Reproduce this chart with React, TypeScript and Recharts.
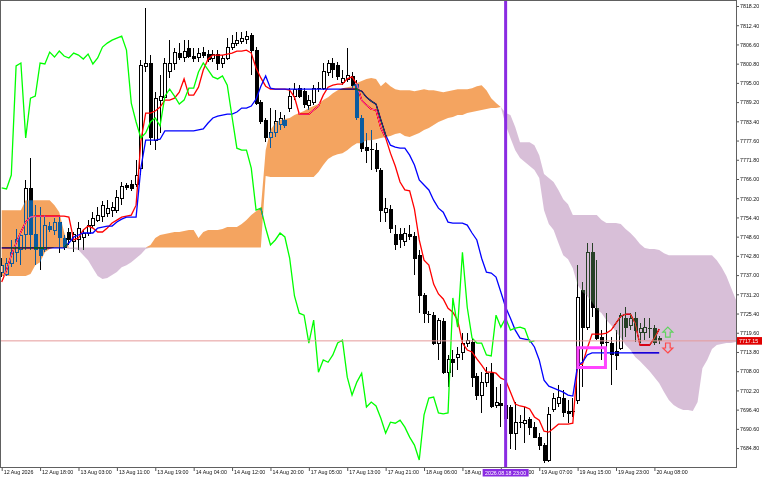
import {
  ComposedChart,
  Bar,
  Line,
  Area,
  XAxis,
  YAxis,
  CartesianGrid,
  ReferenceLine,
  ReferenceArea,
  ReferenceDot,
} from "recharts";

// H1 candles, one per bar index
const opens = [
  7737.9, 7737.3, 7740.6, 7743.9, 7744.6, 7749.1, 7763.0, 7749.1, 7745.2, 7744.6,
  7751.8, 7750.6, 7753.0, 7747.9, 7750.0, 7747.0, 7747.6, 7748.2, 7749.7, 7752.1,
  7753.6, 7754.8, 7755.7, 7756.6, 7756.6, 7760.2, 7763.9, 7764.2, 7764.2, 7769.3,
  7799.8, 7801.0, 7777.7, 7789.8, 7790.7, 7798.3, 7801.0, 7804.0, 7802.8, 7805.5,
  7803.1, 7802.8, 7804.3, 7803.7, 7802.5, 7803.7, 7801.0, 7802.5, 7805.8, 7807.0,
  7807.6, 7808.2, 7809.4, 7804.9, 7789.2, 7783.8, 7778.4, 7779.9, 7782.3, 7783.8,
  7787.4, 7791.0, 7793.4, 7792.5, 7788.3, 7789.2, 7793.1, 7793.4, 7798.0, 7801.0,
  7800.1, 7795.0, 7795.9, 7796.8, 7794.6, 7784.4, 7775.6, 7775.0, 7774.7, 7768.7,
  7756.0, 7756.9, 7749.1, 7749.1, 7747.0, 7749.4, 7748.5, 7743.0, 7730.7, 7725.1,
  7724.9, 7716.5, 7723.1, 7707.7, 7711.4, 7712.0, 7713.5, 7716.5, 7716.8, 7706.5,
  7700.8, 7704.7, 7707.4, 7697.5, 7698.4, 7697.5, 7696.9, 7689.3, 7692.6, 7692.3,
  7693.5, 7691.1, 7688.1, 7685.7, 7681.2, 7696.3, 7698.4, 7699.9, 7695.7, 7695.7,
  7699.3, 7732.5, 7721.3, 7743.9, 7727.0, 7718.3, 7716.7, 7716.5, 7713.8, 7714.9,
  7724.0, 7721.9, 7724.0, 7719.8, 7719.8, 7721.0, 7721.0, 7718.0,
];
const highs = [
  7742.1, 7742.1, 7747.6, 7750.9, 7750.0, 7765.7, 7772.3, 7758.1, 7757.5, 7755.1,
  7753.0, 7754.2, 7754.5, 7749.1, 7751.2, 7750.0, 7753.0, 7750.6, 7753.6, 7756.0,
  7757.5, 7759.3, 7759.6, 7759.0, 7762.7, 7765.1, 7764.8, 7765.7, 7771.7, 7801.9,
  7817.6, 7803.4, 7792.2, 7797.4, 7802.5, 7807.9, 7805.5, 7807.0, 7807.9, 7807.9,
  7805.5, 7805.5, 7805.8, 7804.9, 7804.9, 7804.9, 7803.4, 7808.5, 7809.4, 7810.3,
  7810.3, 7810.6, 7810.0, 7805.8, 7789.8, 7784.4, 7787.4, 7786.8, 7786.2, 7785.3,
  7793.4, 7795.0, 7794.3, 7793.4, 7791.3, 7794.3, 7795.3, 7801.0, 7801.9, 7802.5,
  7801.3, 7798.9, 7805.5, 7798.3, 7795.9, 7785.3, 7779.9, 7780.8, 7776.8, 7769.3,
  7760.2, 7758.1, 7752.1, 7751.2, 7751.2, 7752.1, 7750.0, 7744.6, 7731.6, 7726.1,
  7725.8, 7724.0, 7724.0, 7712.9, 7714.4, 7715.3, 7719.5, 7719.5, 7718.0, 7707.4,
  7707.7, 7709.2, 7710.4, 7703.2, 7704.1, 7699.3, 7697.8, 7698.7, 7694.8, 7697.2,
  7694.1, 7692.6, 7689.3, 7686.3, 7697.2, 7701.4, 7703.8, 7702.3, 7699.3, 7699.9,
  7740.0, 7734.9, 7746.7, 7746.7, 7741.5, 7720.4, 7725.5, 7718.3, 7720.4, 7725.5,
  7727.3, 7725.5, 7725.8, 7722.5, 7724.0, 7724.0, 7721.9, 7718.6,
];
const lows = [
  7736.4, 7736.7, 7739.4, 7740.9, 7740.0, 7744.6, 7744.6, 7740.0, 7738.5, 7743.9,
  7750.0, 7749.1, 7743.6, 7744.6, 7746.1, 7743.9, 7744.6, 7744.6, 7748.8, 7751.2,
  7753.0, 7753.0, 7754.5, 7754.5, 7755.7, 7758.1, 7762.7, 7762.4, 7763.6, 7767.2,
  7798.3, 7776.2, 7774.7, 7779.9, 7789.8, 7796.5, 7798.9, 7801.9, 7801.3, 7802.5,
  7801.3, 7801.3, 7802.5, 7801.3, 7801.3, 7798.9, 7799.5, 7801.9, 7804.9, 7806.1,
  7806.7, 7806.7, 7797.4, 7788.3, 7782.6, 7777.1, 7775.3, 7778.7, 7780.8, 7781.4,
  7786.2, 7789.8, 7790.4, 7787.4, 7786.8, 7788.3, 7792.2, 7792.8, 7797.1, 7796.5,
  7795.9, 7794.3, 7795.3, 7793.4, 7783.8, 7774.1, 7770.8, 7768.7, 7768.1, 7753.0,
  7753.0, 7749.7, 7744.6, 7745.2, 7745.8, 7747.6, 7737.0, 7725.5, 7722.5, 7722.5,
  7715.9, 7711.4, 7707.1, 7703.2, 7706.2, 7708.3, 7711.4, 7715.3, 7703.2, 7699.3,
  7695.4, 7703.2, 7696.9, 7696.9, 7691.1, 7690.2, 7684.5, 7684.2, 7690.8, 7686.3,
  7688.7, 7687.8, 7684.2, 7680.3, 7680.6, 7695.7, 7697.2, 7694.2, 7692.3, 7694.2,
  7698.1, 7703.2, 7720.4, 7724.3, 7717.4, 7711.4, 7714.9, 7703.8, 7708.3, 7714.4,
  7718.3, 7720.4, 7716.8, 7716.5, 7717.4, 7718.0, 7715.9, 7716.2,
];
const closes = [
  7740.0, 7740.6, 7743.9, 7747.6, 7748.8, 7763.0, 7749.1, 7744.6, 7743.0, 7752.1,
  7750.9, 7753.0, 7748.2, 7745.2, 7747.6, 7749.1, 7751.2, 7749.7, 7752.1, 7754.2,
  7755.1, 7758.1, 7757.2, 7757.5, 7760.5, 7763.6, 7763.3, 7763.0, 7767.2, 7800.1,
  7801.0, 7778.4, 7790.4, 7791.0, 7801.0, 7800.7, 7804.3, 7802.8, 7804.6, 7803.1,
  7802.5, 7804.0, 7803.4, 7802.2, 7803.7, 7800.7, 7802.5, 7805.8, 7807.0, 7807.9,
  7808.5, 7809.1, 7804.9, 7788.9, 7783.2, 7778.4, 7779.9, 7783.2, 7784.4, 7782.0,
  7791.0, 7793.1, 7791.0, 7788.6, 7789.8, 7793.4, 7793.4, 7798.3, 7801.0, 7798.9,
  7796.8, 7796.2, 7797.1, 7794.3, 7784.7, 7775.3, 7774.7, 7774.7, 7769.3, 7756.6,
  7757.2, 7751.2, 7746.1, 7747.6, 7749.7, 7748.5, 7742.1, 7730.7, 7725.5, 7724.9,
  7716.5, 7723.4, 7707.7, 7711.4, 7710.7, 7712.9, 7716.5, 7717.4, 7706.2, 7700.8,
  7704.7, 7707.4, 7697.2, 7698.7, 7697.5, 7693.8, 7689.3, 7692.6, 7692.3, 7693.2,
  7691.1, 7688.1, 7685.7, 7681.2, 7694.8, 7699.9, 7700.2, 7695.4, 7695.1, 7695.4,
  7730.1, 7721.3, 7743.9, 7727.3, 7718.0, 7716.5, 7716.5, 7712.9, 7712.6, 7724.9,
  7721.3, 7724.0, 7720.4, 7721.0, 7721.3, 7720.8, 7716.8, 7717.15,
];

// Ichimoku lines
const tenkan = [
  7734.9, 7738.5, 7743.0, 7746.7, 7750.0, 7753.0, 7754.5, 7754.8, 7754.8, 7754.8,
  7754.8, 7754.8, 7754.8, 7754.8, 7754.5, 7747.6, 7748.2, 7750.6, 7751.8, 7751.2,
  7750.0, 7750.0, 7751.2, 7752.7, 7753.6, 7754.5, 7754.8, 7755.1, 7758.1, 7777.4,
  7785.9, 7785.9, 7786.5, 7787.7, 7789.8, 7789.8, 7790.4, 7792.2, 7796.2, 7791.3,
  7791.3, 7793.7, 7798.9, 7802.2, 7803.4, 7803.4, 7803.4, 7803.7, 7804.0, 7804.6,
  7804.6, 7804.9, 7804.0, 7799.5, 7796.5, 7794.0, 7793.1, 7793.1, 7793.1, 7793.1,
  7792.8, 7790.7, 7785.6, 7785.6, 7785.6, 7786.8, 7788.0, 7791.3, 7793.7, 7794.3,
  7794.6, 7794.6, 7796.2, 7796.8, 7794.6, 7789.8, 7788.3, 7787.1, 7786.8, 7781.4,
  7778.4, 7773.8, 7769.9, 7765.1, 7762.7, 7762.4, 7756.9, 7747.6, 7741.5, 7740.0,
  7734.3, 7731.3, 7729.8, 7727.0, 7725.8, 7723.4, 7716.5, 7714.4, 7713.8, 7711.7,
  7709.8, 7707.7, 7707.7, 7707.4, 7705.9, 7705.3, 7701.7, 7698.1, 7697.5, 7697.2,
  7696.6, 7694.2, 7693.2, 7689.9, 7689.6, 7690.8, 7692.0, 7692.0, 7692.0, 7692.3,
  7710.1, 7710.1, 7714.9, 7719.2, 7719.2, 7719.2, 7719.5, 7720.4, 7722.5, 7724.6,
  7725.2, 7725.2, 7722.5, 7715.9, 7715.9, 7715.9, 7718.0, 7720.7,
];
const kijun = [
  7745.2, 7745.2, 7745.2, 7745.2, 7745.2, 7745.2, 7745.2, 7745.2, 7745.2, 7745.2,
  7745.2, 7745.2, 7745.2, 7745.2, 7746.7, 7748.5, 7749.1, 7749.7, 7749.7, 7749.7,
  7751.2, 7751.5, 7751.8, 7751.8, 7753.0, 7753.9, 7754.5, 7754.5, 7754.5, 7769.3,
  7777.7, 7777.7, 7777.7, 7778.0, 7780.5, 7780.5, 7780.5, 7780.5, 7780.5, 7780.5,
  7780.5, 7780.8, 7781.1, 7782.9, 7784.4, 7785.0, 7785.3, 7785.6, 7785.6, 7786.2,
  7787.4, 7787.4, 7788.0, 7790.1, 7794.0, 7797.1, 7793.4, 7793.1, 7793.1, 7793.1,
  7793.1, 7793.1, 7793.1, 7793.1, 7793.1, 7793.1, 7793.1, 7793.1, 7793.1, 7793.1,
  7793.1, 7793.1, 7793.1, 7793.1, 7793.1, 7792.5, 7790.7, 7789.5, 7788.6, 7783.8,
  7779.3, 7776.2, 7775.6, 7775.3, 7775.3, 7773.2, 7770.2, 7765.7, 7764.2, 7762.7,
  7759.6, 7757.2, 7756.0, 7753.0, 7752.7, 7752.7, 7752.7, 7752.1, 7749.7, 7747.6,
  7742.1, 7737.9, 7737.6, 7736.4, 7731.9, 7727.3, 7724.0, 7720.4, 7718.0, 7717.7,
  7717.4, 7715.3, 7711.4, 7705.3, 7703.5, 7702.9, 7702.3, 7701.7, 7700.8, 7700.5,
  7709.8, 7710.7, 7712.9, 7713.5, 7713.5, 7713.5, 7713.5, 7713.5, 7713.5, 7713.5,
  7713.5, 7713.5, 7713.5, 7713.5, 7713.5, 7713.5, 7713.5, 7713.5,
];
// senkou spans, already drawn 26 bars ahead (run past the last candle)
const spanA = [
  7756.6, 7756.6, 7756.6, 7756.6, 7756.6, 7759.6, 7759.6, 7759.6, 7759.6, 7759.6,
  7759.6, 7758.1, 7756.0, 7750.0, 7744.9, 7744.9, 7744.6, 7743.0, 7741.5, 7739.1,
  7736.7, 7735.8, 7736.1, 7737.0, 7737.9, 7739.4, 7740.0, 7740.9, 7742.1, 7743.3,
  7744.9, 7746.1, 7748.2, 7749.1, 7749.4, 7749.7, 7750.0, 7750.0, 7750.3, 7750.6,
  7750.6, 7748.2, 7750.0, 7750.6, 7750.6, 7750.6, 7750.9, 7751.5, 7751.5, 7751.5,
  7752.4, 7753.6, 7755.1, 7756.3, 7757.2, 7774.7, 7780.8, 7782.9, 7783.8, 7784.1,
  7784.4, 7785.3, 7785.9, 7786.5, 7787.4, 7788.0, 7788.6, 7789.8, 7790.7, 7791.9,
  7792.8, 7793.4, 7793.7, 7794.0, 7795.0, 7795.6, 7796.2, 7796.5, 7796.2, 7794.0,
  7795.3, 7794.0, 7793.1, 7792.8, 7792.8, 7792.8, 7792.5, 7792.8, 7793.1, 7792.8,
  7792.8, 7792.5, 7792.2, 7792.5, 7792.8, 7793.1, 7793.1, 7793.1, 7793.4, 7794.0,
  7794.3, 7792.8, 7790.4, 7788.9, 7787.7, 7782.3, 7778.4, 7774.7, 7772.3, 7771.1,
  7769.9, 7768.7, 7766.3, 7756.6, 7752.4, 7750.6, 7746.7, 7743.0, 7741.8, 7739.1,
  7734.0, 7731.9, 7730.7, 7728.9, 7726.7, 7725.5, 7723.4, 7721.9, 7719.8, 7718.0,
  7715.9, 7714.4, 7712.3, 7711.0, 7709.5, 7708.0, 7706.2, 7704.4, 7701.7, 7699.3,
  7697.8, 7696.9, 7696.3, 7696.3, 7696.0, 7698.7, 7708.9, 7711.4, 7714.7, 7715.9,
  7716.2, 7716.5, 7716.5, 7716.8,
];
const spanB = [
  7736.7, 7736.7, 7736.7, 7736.7, 7736.7, 7736.7, 7737.3, 7740.0, 7740.9, 7743.9,
  7744.9, 7745.3, 7745.3, 7745.3, 7745.3, 7745.3, 7745.3, 7745.3, 7745.3, 7745.3,
  7745.3, 7745.3, 7745.3, 7745.3, 7745.3, 7745.3, 7745.3, 7745.3, 7745.3, 7745.3,
  7745.3, 7745.3, 7745.3, 7745.3, 7745.3, 7745.3, 7745.3, 7745.3, 7745.3, 7745.3,
  7745.3, 7745.3, 7745.3, 7745.3, 7745.3, 7745.3, 7745.3, 7745.3, 7745.3, 7745.3,
  7745.3, 7745.3, 7745.3, 7745.3, 7745.3, 7766.9, 7766.6, 7766.6, 7766.6, 7766.6,
  7766.6, 7766.6, 7766.6, 7766.6, 7766.6, 7766.6, 7768.1, 7770.2, 7772.0, 7772.9,
  7773.5, 7773.8, 7774.7, 7775.9, 7776.8, 7776.8, 7777.7, 7777.7, 7778.0, 7778.4,
  7778.7, 7779.0, 7779.6, 7779.9, 7779.0, 7778.7, 7779.3, 7779.9, 7780.8, 7781.4,
  7782.3, 7783.2, 7783.8, 7784.4, 7784.7, 7785.3, 7785.3, 7785.9, 7786.2, 7786.5,
  7786.8, 7787.1, 7787.4, 7787.4, 7787.7, 7785.9, 7785.3, 7781.7, 7777.1, 7777.1,
  7777.1, 7776.2, 7773.2, 7767.5, 7766.3, 7765.1, 7762.7, 7759.9, 7758.4, 7755.1,
  7755.1, 7755.1, 7755.1, 7755.1, 7755.1, 7753.6, 7752.7, 7752.7, 7752.7, 7752.4,
  7750.9, 7749.7, 7748.2, 7746.4, 7745.2, 7744.9, 7744.9, 7744.6, 7743.6, 7743.0,
  7743.0, 7743.0, 7743.0, 7743.0, 7743.0, 7743.0, 7743.0, 7743.0, 7743.0, 7741.5,
  7739.4, 7736.7, 7733.1, 7729.5,
];

const timeLabels = [
  "12 Aug 2026", "12 Aug 18:00", "13 Aug 03:00", "13 Aug 11:00", "13 Aug 19:00",
  "14 Aug 04:00", "14 Aug 12:00", "14 Aug 20:00", "17 Aug 05:00", "17 Aug 13:00",
  "17 Aug 21:00", "18 Aug 06:00", "18 Aug 14:00", "18 Aug 22:00", "19 Aug 07:00",
  "19 Aug 15:00", "19 Aug 23:00", "20 Aug 08:00",
];
const priceTicks = [
  7684.8, 7690.6, 7696.4, 7702.2, 7708.0, 7713.8, 7719.6, 7725.4, 7731.2, 7737.0,
  7742.8, 7748.6, 7754.4, 7760.2, 7766.0, 7771.8, 7777.6, 7783.4, 7789.2, 7795.0,
  7800.8, 7806.6, 7812.4, 7818.2,
];

const lastPrice = 7717.15;
const markerBar = 105;
const markerLabel = "2026.08.18 23:00";
const CHIKOU_SHIFT = 26;
const LABEL_STEP = 8;

const FONT = "Liberation Sans";
const FONT_SIZE = 5.3;
const LABEL_WIDTH = 31.5;

const rows = spanA.map((a, i) => {
  const b = spanB[i];
  const hasBar = i < closes.length;
  return {
    i,
    range: hasBar ? [lows[i], highs[i]] : null,
    open: hasBar ? opens[i] : null,
    close: hasBar ? closes[i] : null,
    tenkan: hasBar ? tenkan[i] : null,
    kijun: hasBar ? kijun[i] : null,
    chikou: i + CHIKOU_SHIFT < closes.length ? closes[i + CHIKOU_SHIFT] : null,
    bullCloud: [b, Math.max(a, b)],
    bearCloud: [Math.min(a, b), b],
  };
});

const xTicks = [...timeLabels.map((_, k) => k * LABEL_STEP), markerBar];
const yTicks = [...priceTicks, lastPrice];

function Candle(props: any) {
  const { x, y, width, height, payload } = props;
  if (!payload || !payload.range || !height) return null;
  const [low, high] = payload.range;
  const cx = Math.round(x + width / 2);
  const k = height / (high - low);
  const py = (p: number) => y + (high - p) * k;
  const top = py(Math.max(payload.open, payload.close));
  const bot = py(Math.min(payload.open, payload.close));
  const up = payload.close > payload.open;
  return (
    <g shapeRendering="crispEdges">
      <line x1={cx + 0.5} x2={cx + 0.5} y1={y} y2={y + height} stroke="#000" />
      {bot - top < 1 ? (
        <line x1={cx - 1.5} x2={cx + 2.5} y1={top} y2={top} stroke="#000" />
      ) : (
        <rect
          x={cx - 1}
          y={top}
          width={3}
          height={bot - top}
          fill={up ? "#fff" : "#000"}
          stroke="#000"
        />
      )}
    </g>
  );
}

function TimeTick(props: any) {
  const { x, y, payload } = props;
  const v = payload.value;
  if (v === markerBar) {
    return (
      <g>
        <rect x={x - 23} y={y + 2} width={46} height={7.5} fill="#8a2be2" />
        <text x={x} y={y + 7.6} textAnchor="middle" fill="#fff" fontFamily={FONT} fontSize={FONT_SIZE}>
          {markerLabel}
        </text>
      </g>
    );
  }
  const label = timeLabels[v / LABEL_STEP];
  // the marker's date box hides the middle of the two labels beside it
  let text = (
    <text x={x + 2} y={y + 7.2} fill="#111" fontFamily={FONT} fontSize={FONT_SIZE}>
      {label}
    </text>
  );
  if (v > markerBar - 2 * LABEL_STEP && v < markerBar - LABEL_STEP) {
    text = (
      <text x={x + 2} y={y + 7.2} fill="#111" fontFamily={FONT} fontSize={FONT_SIZE}>
        {label.slice(0, 6)}
      </text>
    );
  } else if (v < markerBar && v > markerBar - LABEL_STEP) {
    text = (
      <text x={x + 2 + LABEL_WIDTH} y={y + 7.2} textAnchor="end" fill="#111" fontFamily={FONT} fontSize={FONT_SIZE}>
        {label.slice(-2)}
      </text>
    );
  }
  return (
    <g>
      <line x1={x + 0.5} x2={x + 0.5} y1={y} y2={y + 4} stroke="#555" />
      {text}
    </g>
  );
}

function PriceTick(props: any) {
  const { x, y, payload } = props;
  const v = payload.value;
  if (v === lastPrice) {
    return (
      <g>
        <rect x={x + 1} y={y - 3.8} width={25} height={7.6} fill="#e00000" />
        <text x={x + 3} y={y + 1.9} fill="#fff" fontFamily={FONT} fontSize={FONT_SIZE}>
          {v.toFixed(2)}
        </text>
      </g>
    );
  }
  return (
    <g>
      <line x1={x} x2={x + 3} y1={y + 0.5} y2={y + 0.5} stroke="#555" />
      <text x={x + 4} y={y + 2.3} fill="#111" fontFamily={FONT} fontSize={FONT_SIZE}>
        {v.toFixed(2)}
      </text>
    </g>
  );
}

function UpArrow(props: any) {
  const { cx, cy } = props;
  const d = `M${cx},${cy - 5} L${cx + 5},${cy} L${cx + 2.3},${cy} L${cx + 2.3},${cy + 5} L${cx - 2.3},${cy + 5} L${cx - 2.3},${cy} L${cx - 5},${cy} Z`;
  return <path d={d} fill="none" stroke="#5fd35f" strokeWidth={1.2} />;
}

function DownArrow(props: any) {
  const { cx, cy } = props;
  const d = `M${cx},${cy + 5} L${cx + 5},${cy} L${cx + 2.3},${cy} L${cx + 2.3},${cy - 5} L${cx - 2.3},${cy - 5} L${cx - 2.3},${cy} L${cx - 5},${cy} Z`;
  return <path d={d} fill="none" stroke="#ff4a4a" strokeWidth={1.2} />;
}

export default function App() {
  return (
    <div
      style={{
        position: "absolute",
        left: 0,
        top: 0,
        width: 768,
        height: 480,
        background: "#fff",
      }}
    >
      <style>{`.kumo path { mix-blend-mode: difference; }`}</style>
      <ComposedChart
        width={768}
        height={480}
        data={rows}
        margin={{ top: 1, right: 0, bottom: 0, left: 1 }}
      >
        <CartesianGrid horizontal={false} vertical={false} fill="#ffffff" />
        <XAxis
          dataKey="i"
          type="number"
          domain={[-0.146, 153]}
          ticks={xTicks}
          interval={0}
          height={13}
          tickSize={0}
          tickMargin={0}
          axisLine={false}
          tickLine={false}
          tick={TimeTick}
        />
        <YAxis
          orientation="right"
          type="number"
          domain={[7679.09, 7819.71]}
          ticks={yTicks}
          interval={0}
          width={32}
          tickSize={0}
          tickMargin={0}
          axisLine={false}
          tickLine={false}
          tick={PriceTick}
        />
        <Bar
          dataKey="range"
          barSize={4}
          shape={Candle}
          isAnimationActive={false}
          zIndex={300}
        />
        <Line dataKey="tenkan" type="linear" stroke="#ff0000" strokeWidth={1.3} dot={false} activeDot={false} isAnimationActive={false} zIndex={400} />
        <Line dataKey="kijun" type="linear" stroke="#0000ff" strokeWidth={1.3} dot={false} activeDot={false} isAnimationActive={false} zIndex={400} />
        <Line dataKey="chikou" type="linear" stroke="#00ff00" strokeWidth={1.3} dot={false} activeDot={false} isAnimationActive={false} zIndex={400} />
        <Area
          dataKey="bullCloud"
          type="linear"
          stroke="none"
          fill="#0b5b9f"
          fillOpacity={1}
          className="kumo"
          dot={false}
          activeDot={false}
          isAnimationActive={false}
          zIndex={450}
        />
        <Area
          dataKey="bearCloud"
          type="linear"
          stroke="none"
          fill="#274027"
          fillOpacity={1}
          className="kumo"
          dot={false}
          activeDot={false}
          isAnimationActive={false}
          zIndex={450}
        />
        <ReferenceLine y={lastPrice} stroke="#e59a9a" strokeWidth={1} zIndex={600} />
        <ReferenceLine x={markerBar} stroke="#8a2be2" strokeWidth={3} zIndex={600} />
        <ReferenceArea
          x1={120.06}
          x2={125.8}
          y1={7709.1}
          y2={7715.1}
          fill="none"
          fillOpacity={0}
          stroke="#ff44ff"
          strokeWidth={3}
          zIndex={600}
        />
        <ReferenceDot x={138.8} y={7719.8} r={5} shape={UpArrow} zIndex={600} />
        <ReferenceDot x={138.8} y={7715.0} r={5} shape={DownArrow} zIndex={600} />
      </ComposedChart>
      <div
        style={{
          position: "absolute",
          left: 0,
          top: 0,
          width: 735,
          height: 466,
          border: "1px solid #606060",
          pointerEvents: "none",
        }}
      />
    </div>
  );
}
